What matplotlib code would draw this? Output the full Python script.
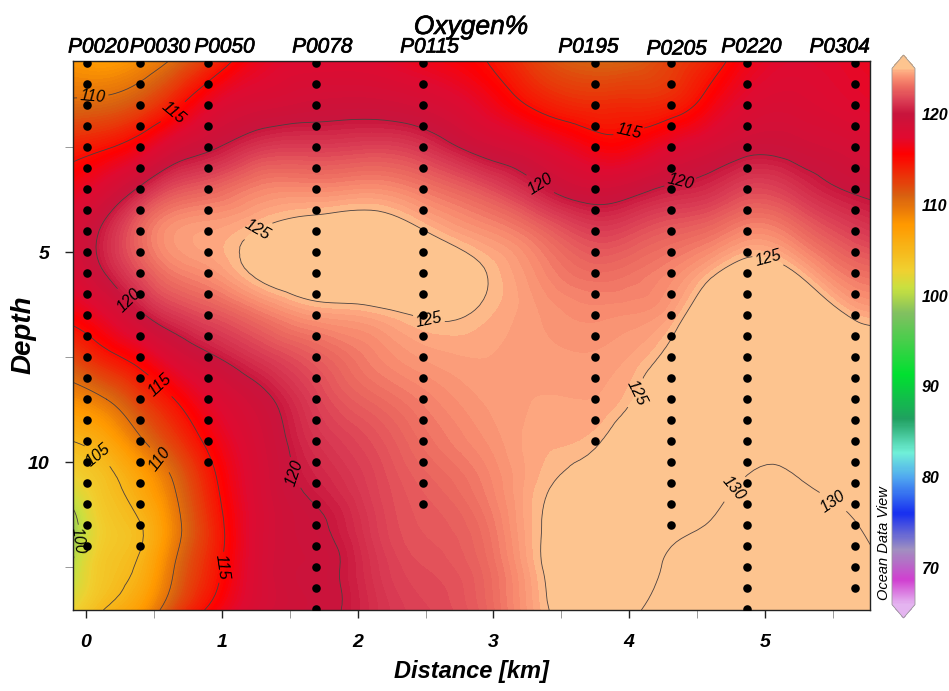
import numpy as np
import matplotlib
matplotlib.use("Agg")
import matplotlib.pyplot as plt
import matplotlib.tri as mtri
import matplotlib.patheffects as pe
from matplotlib.cm import ScalarMappable
from matplotlib.colors import LinearSegmentedColormap, Normalize

plt.rcParams['font.family'] = ['Liberation Sans', 'DejaVu Sans']

# stations along the section
stations = ['P0020', 'P0030', 'P0050', 'P0078', 'P0115', 'P0195', 'P0205', 'P0220', 'P0304']
station_km = [0.01, 0.40, 0.90, 1.69, 2.48, 3.75, 4.31, 4.87, 5.66]
station_bottom = [12.0, 12.0, 10.0, 13.5, 11.0, 9.5, 11.5, 13.5, 13.0]
sample_depths = [0.5, 1, 1.5, 2, 2.5, 3, 3.5, 4, 4.5, 5, 5.5, 6, 6.5, 7, 7.5, 8, 8.5, 9, 9.5,
                 10, 10.5, 11, 11.5, 12, 12.5, 13, 13.5]

# oxygen field, one list per distance
grid_km = [-0.1, 0.15, 0.4, 0.65, 0.9, 1.3, 1.7, 2.1, 2.5, 2.95, 3.3, 3.75, 4.0, 4.31, 4.6, 4.87, 5.25, 5.66, 5.78]
grid_depth = [0.45, 1.5, 2.5, 3.5, 4.5, 5.5, 6.5, 7.5, 8.5, 9.5, 10.5, 11.5, 12.5, 13.52]
oxygen = [
    [108.0, 110.5, 114.0, 116.5, 118.3, 118.0, 115.8, 112.2, 108.5, 105.0, 102.0, 99.0, 100.2, 102.5],
    [107.5, 110.8, 114.8, 118.2, 120.5, 120.1, 117.5, 114.3, 110.0, 106.5, 104.2, 103.3, 103.8, 105.2],
    [108.5, 112.0, 116.3, 120.3, 122.8, 122.0, 119.7, 116.0, 112.6, 109.6, 106.6, 104.9, 105.5, 107.5],
    [110.4, 114.4, 118.5, 122.0, 124.2, 123.4, 121.2, 118.2, 115.0, 112.6, 110.1, 109.0, 110.0, 112.0],
    [113.0, 117.0, 119.7, 122.6, 124.5, 124.0, 122.0, 119.7, 117.3, 115.5, 114.0, 113.2, 113.7, 115.3],
    [116.8, 118.7, 121.2, 123.7, 125.1, 125.3, 123.3, 121.3, 119.6, 118.9, 118.6, 118.4, 118.5, 118.7],
    [117.5, 119.2, 121.4, 123.8, 125.6, 126.0, 124.3, 122.5, 121.6, 121.0, 120.4, 119.8, 119.6, 119.6],
    [117.5, 119.3, 121.6, 124.0, 125.8, 126.3, 124.6, 123.6, 122.8, 122.0, 121.6, 121.3, 121.0, 120.8],
    [116.5, 118.7, 121.0, 123.3, 125.0, 125.9, 125.1, 124.3, 123.6, 123.1, 122.6, 122.3, 122.0, 121.7],
    [115.0, 116.8, 119.2, 122.0, 124.0, 125.0, 124.8, 124.5, 124.3, 124.0, 123.6, 123.2, 122.9, 122.7],
    [112.5, 114.7, 118.0, 120.5, 123.0, 124.0, 124.3, 124.4, 124.5, 124.6, 124.7, 124.8, 124.7, 124.5],
    [110.8, 113.5, 116.0, 119.0, 121.5, 123.0, 123.9, 124.3, 124.5, 124.9, 125.5, 126.0, 126.4, 126.7],
    [111.0, 113.6, 116.0, 119.4, 121.8, 123.2, 124.0, 124.5, 124.9, 125.8, 126.5, 127.2, 127.8, 129.2],
    [112.5, 114.0, 117.5, 120.3, 122.5, 123.8, 124.5, 125.4, 126.3, 127.2, 128.2, 129.3, 130.5, 131.2],
    [114.0, 116.0, 118.6, 120.8, 123.0, 124.8, 126.0, 126.8, 127.6, 128.3, 129.2, 130.1, 131.0, 132.0],
    [116.3, 117.8, 119.5, 121.7, 123.8, 125.6, 126.5, 127.3, 128.2, 129.2, 130.2, 131.0, 131.8, 132.5],
    [117.5, 118.2, 119.3, 121.0, 123.0, 124.9, 126.4, 127.2, 128.2, 129.2, 130.1, 131.0, 131.6, 132.0],
    [117.0, 117.5, 118.6, 119.8, 121.5, 123.2, 124.8, 126.0, 127.0, 128.0, 129.2, 130.1, 130.8, 131.2],
    [116.8, 117.3, 118.3, 119.6, 121.2, 123.0, 124.6, 125.8, 126.8, 127.8, 128.8, 129.6, 130.4, 130.8],
]
contour_levels = [100, 105, 110, 115, 120, 125, 130]
bar_ticks = [70, 80, 90, 100, 110, 120]

# Ocean Data View style rainbow, colour stops given in oxygen %
vmin, vmax = 66, 125
stops = [(66, '#E4B4F0'), (68.7, '#D040D0'), (72, '#A090C0'), (76, '#1830F0'), (80, '#50A8F0'),
         (82.7, '#70F0D8'), (86.4, '#20A060'), (91.3, '#00E030'), (98, '#80C060'), (100.8, '#C8E040'),
         (102.8, '#F0D030'), (107.8, '#FF9900'), (111, '#D86010'), (115.6, '#FF0000'), (117.5, '#E00A30'),
         (120, '#C8143C'), (121.5, '#DA3C54'), (123, '#EC6A60'), (124, '#F88C70'), (124.7, '#FDA880'),
         (125, '#FDC48F')]
odv = LinearSegmentedColormap.from_list('odv', [((v - vmin) / (vmax - vmin), c) for v, c in stops], N=512)
odv.set_over('#FDC48F')
odv.set_under('#E4B4F0')
norm = Normalize(vmin, vmax)

fig = plt.figure(figsize=(9.49, 6.91), dpi=100)
ax = fig.add_axes([73 / 949, 1 - 610 / 691, 797 / 949, 549 / 691])

# smooth the read-off table with matplotlib's triangulation refiner
km_mesh, depth_mesh = np.meshgrid(grid_km, grid_depth)
z = np.array(oxygen).T
tri = mtri.Triangulation(km_mesh.ravel(), depth_mesh.ravel())
refiner = mtri.UniformTriRefiner(tri)
fine_tri, fine_z = refiner.refine_field(z.ravel(), subdiv=3)

ax.tricontourf(fine_tri, fine_z, levels=np.arange(96, 134, 0.25), cmap=odv, norm=norm, extend='both')
lines = ax.tricontour(fine_tri, fine_z, levels=contour_levels, colors='#4a4040', linewidths=0.6)

# labels sit where the reference has them
label_spots = [(0.05, 1.33), (0.65, 1.7), (0.3, 6.2), (1.24, 4.33), (2.53, 6.5), (3.34, 3.4), (4.0, 2.17),
               (4.38, 3.4), (5.02, 5.2), (4.08, 8.4), (4.76, 10.6), (5.49, 11.0), (0.54, 8.2), (0.52, 10.0),
               (0.07, 9.9), (0.0, 11.9), (0.99, 12.5), (1.59, 10.2)]
texts = ax.clabel(lines, fmt='%d', fontsize=11.5, colors='black', inline_spacing=3, manual=label_spots)
for t in texts:
    t.set_fontstyle('italic')

# sample dots per station
for km, bottom in zip(station_km, station_bottom):
    d = [s for s in sample_depths if s <= bottom]
    ax.scatter([km] * len(d), d, s=38, color='black', linewidths=0, zorder=5)

ax.set_xlim(-0.096, 5.773)
ax.set_ylim(13.52, 0.45)
ax.set_xticks([0, 1, 2, 3, 4, 5])
ax.set_xticks([0.5, 1.5, 2.5, 3.5, 4.5, 5.5], minor=True)
ax.set_yticks([5, 10])
ax.set_yticks([2.5, 7.5, 12.5], minor=True)
ax.tick_params(which='major', length=6, width=1, color='#222222', pad=11)
ax.tick_params(which='minor', length=6, width=0.7, color='#999999')
for lab in ax.get_xticklabels() + ax.get_yticklabels():
    lab.set_fontsize(14)
    lab.set_fontstyle('italic')
    lab.set_fontweight('bold')
for side in ax.spines.values():
    side.set_linewidth(1.0)
    side.set_color('#222222')

ax.set_xlabel('Distance [km]', fontsize=17, fontweight='bold', fontstyle='italic', labelpad=7)
fig.text(24 / 949, 1 - 335 / 691, 'Depth', rotation=90, ha='center', va='center', fontsize=20,
         fontweight='bold', fontstyle='italic')

# a thin stroke gives the heavier look of the scanned labels
heavier = [pe.withStroke(linewidth=0.5, foreground='black')]

# station names over the frame
name_km = [0.09, 0.545, 1.02, 1.74, 2.53, 3.7, 4.35, 4.9, 5.55]
name_y = [47, 47, 47, 47, 47, 47, 49, 47, 47]
for name, km, py in zip(stations, name_km, name_y):
    ax.text(km, 1 + (61 - py) / 549, name, transform=ax.get_xaxis_transform(), ha='center', va='center',
            fontsize=15, fontstyle='italic', clip_on=False, path_effects=heavier)
fig.text(471 / 949, 1 - 27 / 691, 'Oxygen%', ha='center', va='center', fontsize=19, fontstyle='italic',
         path_effects=heavier)

# colour bar, the axes include both tips
cax = fig.add_axes([892 / 949, 1 - 618 / 691, 23 / 949, 563 / 691])
cb = fig.colorbar(ScalarMappable(norm=norm, cmap=odv), cax=cax, extend='both', extendfrac=0.025, ticks=bar_ticks)
cb.outline.set_edgecolor('#999999')
cb.outline.set_linewidth(0.6)
cax.tick_params(length=0, pad=5)
for lab in cax.get_yticklabels():
    lab.set_fontsize(11.5)
    lab.set_fontstyle('italic')
    lab.set_fontweight('bold')
fig.text(884 / 949, 1 - 543 / 691, 'Ocean Data View', rotation=90, ha='center', va='center',
         fontsize=10.5, fontstyle='italic')

fig.savefig('out.png', dpi=100)
